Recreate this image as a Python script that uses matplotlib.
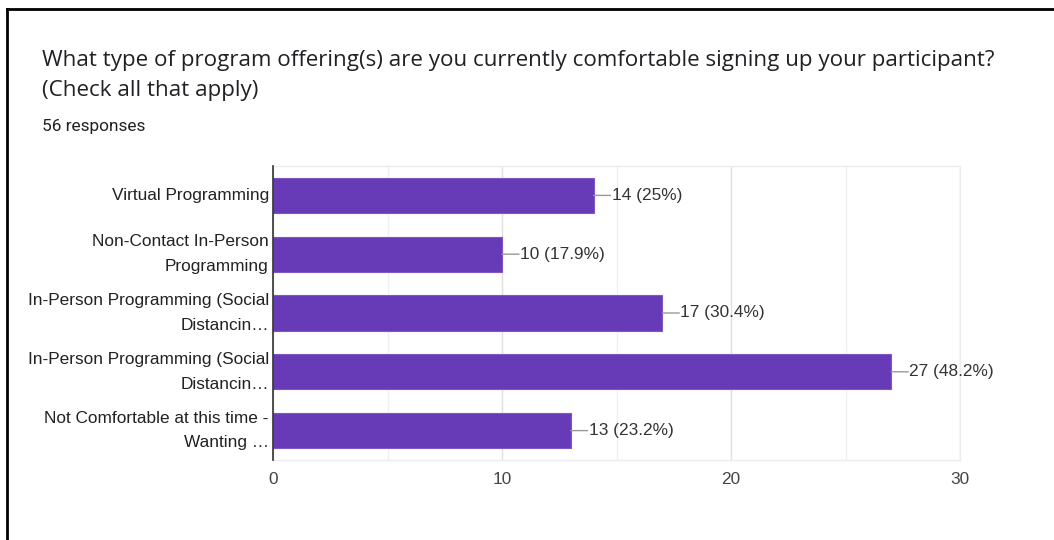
import matplotlib
matplotlib.use("Agg")
import matplotlib.pyplot as plt
from matplotlib.ticker import MultipleLocator

categories = [
    "Virtual Programming",
    "Non-Contact In-Person\nProgramming",
    "In-Person Programming (Social\nDistancin…",
    "In-Person Programming (Social\nDistancin…",
    "Not Comfortable at this time -\nWanting …",
]
counts = [14, 10, 17, 27, 13]
percents = ["25%", "17.9%", "30.4%", "48.2%", "23.2%"]
x_ticks = [0, 10, 20, 30]

title_lines = ["What type of program offering(s) are you currently comfortable signing up your participant?",
               "(Check all that apply)"]
subtitle = "56 responses"

bar_color = "#673AB7"
lab_font = ["Liberation Sans", "DejaVu Sans"]

fig = plt.figure(figsize=(10.54, 5.4), dpi=100)
fig.patch.set_facecolor("white")

# frame lines of the screenshot
fig.add_artist(plt.Line2D([7/1054, 7/1054], [0, 1 - 9/540], color="black", lw=2, transform=fig.transFigure))
fig.add_artist(plt.Line2D([7/1054, 1], [1 - 9/540, 1 - 9/540], color="black", lw=2, transform=fig.transFigure))

for i, line in enumerate(title_lines):
    fig.text(42/1054, 1 - (66 + 30*i)/540, line, fontsize=16.1, family=["Open Sans", "DejaVu Sans"],
             color="#202124", va="baseline", ha="left")
fig.text(42/1054, 1 - 131/540, subtitle, fontsize=12.4, family=["Roboto", "DejaVu Sans"],
         color="#202124", va="baseline", ha="left")

ax = fig.add_axes([273/1054, 80/540, (960-273)/1054, (460-166)/540])
y = list(range(len(categories)))
ax.barh(y, counts, height=0.6, color=bar_color, edgecolor="#7e57c2", linewidth=0.8, zorder=3)
ax.set_ylim(4.5, -0.5)
ax.set_xlim(0, 30)
ax.set_xticks(x_ticks)
ax.xaxis.set_minor_locator(MultipleLocator(5))
ax.set_yticks(y)
ax.set_yticklabels(categories, fontsize=12.4, family=lab_font, color="#222222",
                   linespacing=1.8, va="center")
ax.tick_params(axis="y", length=0, pad=3)
ax.tick_params(axis="x", length=0, pad=9, labelsize=12.4, labelcolor="#444444")
for lbl in ax.get_xticklabels():
    lbl.set_family(lab_font)
ax.grid(axis="x", which="major", color="#e0e0e0", lw=1, zorder=0)
ax.grid(axis="x", which="minor", color="#f0f0f0", lw=1, zorder=0)
ax.tick_params(axis="x", which="minor", length=0)
for s in ["top", "right", "bottom"]:
    ax.spines[s].set_color("#ececec")
    ax.spines[s].set_linewidth(1)
ax.spines["left"].set_color("#333333")
ax.spines["left"].set_linewidth(1.2)
ax.spines["left"].set_zorder(4)

for yi, c, p in zip(y, counts, percents):
    ax.annotate("", xy=(c, yi), xytext=(17, 0), textcoords="offset pixels",
                arrowprops=dict(arrowstyle="-", color="#999999", lw=1, shrinkA=0, shrinkB=0))
    ax.annotate(f"{c} ({p})", xy=(c, yi), xytext=(18, 0), textcoords="offset pixels",
                va="center", ha="left", fontsize=12.4, color="#333333", family=lab_font)

fig.savefig("out.png", dpi=100, facecolor="white")
